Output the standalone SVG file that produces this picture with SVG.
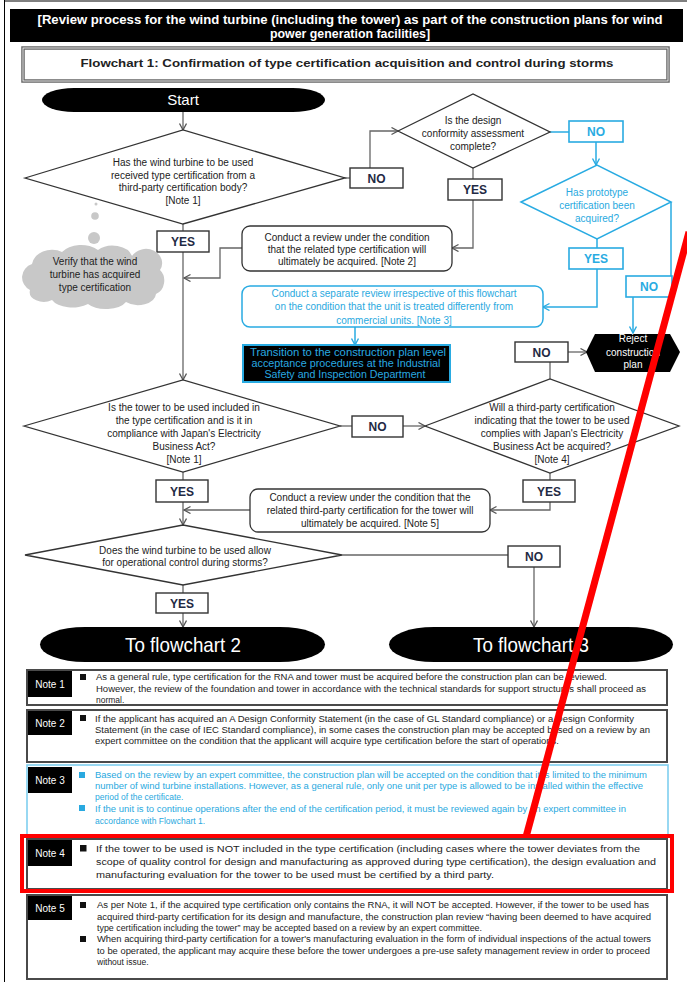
<svg xmlns="http://www.w3.org/2000/svg" width="687" height="982" viewBox="0 0 687 982">
<style>
text{font-family:"Liberation Sans",Arial,sans-serif;}
.t{font-size:10px;fill:#222;text-anchor:middle;}
.tb{font-size:10px;fill:#29a9e0;text-anchor:middle;}
.tw{fill:#fff;text-anchor:middle;}
.shape{fill:#fff;stroke:#333;stroke-width:1.3;}
.bshape{fill:#fff;stroke:#29abe2;stroke-width:1.5;}
.yn{fill:#fff;stroke:#333;stroke-width:1.4;}
.byn{fill:#fff;stroke:#29abe2;stroke-width:1.6;}
.ynt{font-size:12px;font-weight:bold;fill:#1f2a44;text-anchor:middle;}
.bynt{font-size:12px;font-weight:bold;fill:#29abe2;text-anchor:middle;}
.c{fill:none;stroke:#666;stroke-width:1.3;}
.cb{fill:none;stroke:#29abe2;stroke-width:1.5;}
.note{fill:#fff;stroke:#4a4a4a;stroke-width:2;}
.lab{fill:#000;}
.labt{font-size:10px;fill:#fff;text-anchor:middle;}
.nt{font-size:8.5px;fill:#222;}
.nbt{font-size:8.5px;fill:#29a9e0;}
</style>
<defs>
<marker id="a" markerUnits="userSpaceOnUse" markerWidth="10" markerHeight="10" refX="7" refY="4" orient="auto">
<path d="M0.5,0.5 L7,4 L0.5,7.5" fill="none" stroke="#555" stroke-width="1.3"/>
</marker>
<marker id="ab" markerUnits="userSpaceOnUse" markerWidth="10" markerHeight="10" refX="7" refY="4" orient="auto">
<path d="M0.5,0.5 L7,4 L0.5,7.5" fill="none" stroke="#29abe2" stroke-width="1.4"/>
</marker>
</defs>
<rect width="687" height="982" fill="#fff"/>
<line x1="4.5" y1="0" x2="4.5" y2="982" stroke="#000" stroke-width="1"/>
<line x1="4" y1="1" x2="687" y2="1" stroke="#000" stroke-width="1"/>

<g id="header">
<rect x="10" y="9" width="673" height="33" fill="#000"/>
<text x="350" y="24" class="tw" font-size="12" font-weight="bold" textLength="625" lengthAdjust="spacingAndGlyphs">[Review process for the wind turbine (including the tower) as part of the construction plans for wind</text>
<text x="350" y="38" class="tw" font-size="12" font-weight="bold" textLength="160" lengthAdjust="spacingAndGlyphs">power generation facilities]</text>
</g>
<g id="title">
<rect x="23" y="48" width="645" height="33" fill="#fff" stroke="#666" stroke-width="3.5"/>
<rect x="23" y="48" width="645" height="33" fill="none" stroke="#fff" stroke-width="0.8"/>
<text x="347" y="67" class="t" font-size="13" font-weight="bold" fill="#111" textLength="533" lengthAdjust="spacingAndGlyphs">Flowchart 1: Confirmation of type certification acquisition and control during storms</text>
</g>

<g id="connectors">
<line class="c" x1="183" y1="112" x2="183" y2="130" marker-end="url(#a)"/>
<line class="c" x1="345" y1="178" x2="350" y2="178"/>
<polyline class="c" points="370,168 370,131 398,131" marker-end="url(#a)"/>
<line class="c" x1="473" y1="168" x2="473" y2="179"/>
<polyline class="c" points="473,200 473,248 452,248" marker-end="url(#a)"/>
<polyline class="c" points="242,248 220,248 220,278 184,278" marker-end="url(#a)"/>
<line class="c" x1="183" y1="224" x2="183" y2="231"/>
<line class="c" x1="183" y1="252" x2="183" y2="380" marker-end="url(#a)"/>
<line class="cb" x1="550" y1="132" x2="569" y2="132"/>
<line class="cb" x1="596" y1="142" x2="596" y2="165" marker-end="url(#ab)"/>
<line class="cb" x1="597" y1="239" x2="597" y2="248"/>
<polyline class="cb" points="597,269 597,307 543,307" marker-end="url(#ab)"/>
<line class="cb" x1="671" y1="202" x2="671" y2="276"/>
<line class="cb" x1="633" y1="297" x2="633" y2="333" marker-end="url(#ab)"/>
<line class="cb" x1="355" y1="327" x2="355" y2="345" marker-end="url(#ab)"/>
<line class="c" x1="550" y1="362" x2="550" y2="379"/>
<line class="c" x1="568" y1="352" x2="587" y2="352" marker-end="url(#a)"/>
<line class="c" x1="340" y1="426" x2="352" y2="426"/>
<line class="c" x1="403" y1="426" x2="425" y2="426" marker-end="url(#a)"/>
<line class="c" x1="183" y1="472" x2="183" y2="480"/>
<line class="c" x1="183" y1="502" x2="183" y2="525" marker-end="url(#a)"/>
<line class="c" x1="550" y1="473" x2="550" y2="480"/>
<polyline class="c" points="550,502 550,510 490,510" marker-end="url(#a)"/>
<line class="c" x1="250" y1="510" x2="184" y2="510" marker-end="url(#a)"/>
<line class="c" x1="342" y1="555" x2="508" y2="555"/>
<line class="c" x1="534" y1="567" x2="534" y2="627" marker-end="url(#a)"/>
<line class="c" x1="183" y1="585" x2="183" y2="593"/>
<line class="c" x1="183" y1="613" x2="183" y2="627" marker-end="url(#a)"/>
</g>

<g id="start">
<rect x="42" y="88" width="283" height="24" rx="32" ry="12" fill="#000"/>
<text x="183" y="105" class="tw" font-size="15">Start</text>
</g>

<g id="d1">
<polygon class="shape" points="25,178 183,130 345,178 183,224"/>
<text class="t" x="183" y="165.5">Has the wind turbine to be used</text>
<text class="t" x="183" y="178.5">received type certification from a</text>
<text class="t" x="183" y="190.5">third-party certification body?</text>
<text class="t" x="183" y="203.5">[Note 1]</text>
</g>
<g id="no1"><rect class="yn" x="350" y="168" width="53" height="20"/><text class="ynt" x="376.5" y="182.5">NO</text></g>
<g id="d2">
<polygon class="shape" points="398,131 473,94 550,132 473,168"/>
<text class="t" x="473" y="123.5">Is the design</text>
<text class="t" x="473" y="136.5">conformity assessment</text>
<text class="t" x="473" y="149.5">complete?</text>
</g>
<g id="yes2"><rect class="yn" x="448" y="179" width="54" height="21"/><text class="ynt" x="475" y="194">YES</text></g>
<g id="yes1"><rect class="yn" x="157" y="231" width="52" height="21"/><text class="ynt" x="183" y="246">YES</text></g>
<g id="cloud">
<circle cx="96" cy="204" r="1.5" fill="#c8c8c8"/>
<circle cx="95" cy="216" r="3.8" fill="#c8c8c8"/>
<circle cx="94" cy="238" r="6" fill="#c8c8c8"/>
<path d="M30,290 a14,14 0 0 1 2,-26 a20,16 0 0 1 30,-12 a22,14 0 0 1 36,-2 a20,14 0 0 1 34,6 a16,14 0 0 1 28,14 a12,14 0 0 1 -4,24 a18,12 0 0 1 -30,8 a22,12 0 0 1 -38,2 a22,12 0 0 1 -36,-4 a14,10 0 0 1 -22,-10 z" fill="#c8c8c8"/>
<text class="t" x="95" y="264.5" fill="#333">Verify that the wind</text>
<text class="t" x="95" y="277.5" fill="#333">turbine has acquired</text>
<text class="t" x="95" y="290.5" fill="#333">type certification</text>
</g>
<g id="box2">
<rect class="shape" x="242" y="226" width="210" height="45" rx="8"/>
<text class="t" x="347" y="240.5">Conduct a review under the condition</text>
<text class="t" x="347" y="252.5">that the related type certification will</text>
<text class="t" x="347" y="264.5">ultimately be acquired. [Note 2]</text>
</g>
<g id="no2"><rect class="byn" x="569" y="121" width="54" height="21"/><text class="bynt" x="596" y="136">NO</text></g>
<g id="d6">
<polygon class="bshape" points="521,202 597,165 671,202 597,239"/>
<text class="tb" x="597" y="195.5">Has prototype</text>
<text class="tb" x="597" y="208.5">certification been</text>
<text class="tb" x="597" y="221.5">acquired?</text>
</g>
<g id="yes6"><rect class="byn" x="569" y="248" width="54" height="21"/><text class="bynt" x="596" y="263">YES</text></g>
<g id="no7"><rect class="byn" x="626" y="276" width="46" height="21"/><text class="bynt" x="649" y="291">NO</text></g>
<g id="box3">
<rect class="bshape" x="242" y="286" width="301" height="41" rx="8"/>
<text class="tb" x="394" y="296.5">Conduct a separate review irrespective of this flowchart</text>
<text class="tb" x="394" y="310">on the condition that the unit is treated differently from</text>
<text class="tb" x="394" y="323.5">commercial units. [Note 3]</text>
</g>
<g id="transition">
<rect x="243" y="345" width="207" height="37" fill="#000" stroke="#29abe2" stroke-width="2"/>
<text class="tb" font-size="11" x="348" y="355.5" textLength="196" lengthAdjust="spacingAndGlyphs">Transition to the construction plan level</text>
<text class="tb" font-size="11" x="346" y="366.5" textLength="189" lengthAdjust="spacingAndGlyphs">acceptance procedures at the Industrial</text>
<text class="tb" font-size="11" x="345" y="377.5" textLength="161" lengthAdjust="spacingAndGlyphs">Safety and Inspection Department</text>
</g>
<g id="reject">
<polygon points="586,352 595,334 670,334 680,352 670,372 595,372" fill="#000"/>
<text class="tw" font-size="10" x="633" y="342">Reject</text>
<text class="tw" font-size="10" x="633" y="355.5">construction</text>
<text class="tw" font-size="10" x="633" y="368">plan</text>
</g>
<g id="no8"><rect class="yn" x="515" y="342" width="53" height="20"/><text class="ynt" x="541.5" y="356.5">NO</text></g>
<g id="d3">
<polygon class="shape" points="24,426 183,380 340,426 183,472"/>
<text class="t" x="184" y="411">Is the tower to be used included in</text>
<text class="t" x="184" y="423.5">the type certification and is it in</text>
<text class="t" x="184" y="437">compliance with Japan's Electricity</text>
<text class="t" x="184" y="449.5">Business Act?</text>
<text class="t" x="184" y="463">[Note 1]</text>
</g>
<g id="no9"><rect class="yn" x="352" y="416" width="51" height="21"/><text class="ynt" x="377.5" y="431">NO</text></g>
<g id="d4">
<polygon class="shape" points="425,426 550,379 679,426 550,473"/>
<text class="t" x="552" y="411">Will a third-party certification</text>
<text class="t" x="552" y="423.5">indicating that the tower to be used</text>
<text class="t" x="552" y="437">complies with Japan's Electricity</text>
<text class="t" x="552" y="449.5">Business Act be acquired?</text>
<text class="t" x="552" y="463">[Note 4]</text>
</g>
<g id="yes3"><rect class="yn" x="156" y="480" width="52" height="22"/><text class="ynt" x="182" y="495.5">YES</text></g>
<g id="yes4"><rect class="yn" x="523" y="480" width="52" height="22"/><text class="ynt" x="549" y="495.5">YES</text></g>
<g id="box5">
<rect class="shape" x="250" y="489" width="240" height="43" rx="8"/>
<text class="t" x="370" y="500.5">Conduct a review under the condition that the</text>
<text class="t" x="370" y="513.5">related third-party certification for the tower will</text>
<text class="t" x="370" y="526.5">ultimately be acquired. [Note 5]</text>
</g>
<g id="d5">
<polygon class="shape" points="25,555 183,525 342,555 183,585"/>
<text class="t" x="185" y="553.5">Does the wind turbine to be used allow</text>
<text class="t" x="185" y="565.5">for operational control during storms?</text>
</g>
<g id="no10"><rect class="yn" x="508" y="546" width="52" height="21"/><text class="ynt" x="534" y="561">NO</text></g>
<g id="yes5"><rect class="yn" x="156" y="593" width="52" height="20"/><text class="ynt" x="182" y="607.5">YES</text></g>
<g id="fc2">
<rect x="40" y="627" width="285" height="35" rx="45" ry="17.5" fill="#000"/>
<text class="tw" font-size="21" x="183" y="652" textLength="116" lengthAdjust="spacingAndGlyphs">To flowchart 2</text>
</g>
<g id="fc3">
<rect x="389" y="627" width="284" height="35" rx="45" ry="17.5" fill="#000"/>
<text class="tw" font-size="21" x="531" y="652" textLength="116" lengthAdjust="spacingAndGlyphs">To flowchart 3</text>
</g>

<g id="note1">
<rect class="note" x="27" y="670" width="640" height="35"/>
<rect class="lab" x="28" y="671" width="44" height="26"/>
<text class="labt" x="50" y="688">Note 1</text>
<rect x="80" y="674" width="6" height="6" fill="#111"/>
<text class="nt" x="96" y="680" textLength="511" lengthAdjust="spacingAndGlyphs">As a general rule, type certification for the RNA and tower must be acquired before the construction plan can be reviewed.</text>
<text class="nt" x="96" y="691.5" textLength="550" lengthAdjust="spacingAndGlyphs">However, the review of the foundation and tower in accordance with the technical standards for support structures shall proceed as</text>
<text class="nt" x="96" y="702.5">normal.</text>
</g>
<g id="note2">
<rect class="note" x="27" y="710" width="640" height="52"/>
<rect class="lab" x="28" y="711" width="44" height="24"/>
<text class="labt" x="50" y="727">Note 2</text>
<rect x="80" y="715" width="6" height="6" fill="#111"/>
<text class="nt" x="95" y="721.5" textLength="539" lengthAdjust="spacingAndGlyphs">If the applicant has acquired an A Design Conformity Statement (in the case of GL Standard compliance) or a Design Conformity</text>
<text class="nt" x="95" y="732.5" textLength="555" lengthAdjust="spacingAndGlyphs">Statement (in the case of IEC Standard compliance), in some cases the construction plan may be accepted based on a review by an</text>
<text class="nt" x="95" y="743.5" textLength="464" lengthAdjust="spacingAndGlyphs">expert committee on the condition that the applicant will acquire type certification before the start of operations.</text>
</g>
<g id="note3">
<rect x="27" y="765" width="641" height="70" fill="#fff" stroke="#7fcfef" stroke-width="1.6"/>
<rect class="lab" x="28" y="767" width="44" height="26"/>
<text class="labt" x="50" y="784" fill="#29a9e0">Note 3</text>
<rect x="79" y="772" width="6" height="6" fill="#29a9e0"/>
<text class="nbt" x="95" y="778" textLength="552" lengthAdjust="spacingAndGlyphs">Based on the review by an expert committee, the construction plan will be accepted on the condition that it is limited to the minimum</text>
<text class="nbt" x="95" y="789" textLength="548" lengthAdjust="spacingAndGlyphs">number of wind turbine installations. However, as a general rule, only one unit per type is allowed to be installed within the effective</text>
<text class="nbt" x="95" y="799.5">period of the certificate.</text>
<rect x="79" y="805" width="6" height="6" fill="#29a9e0"/>
<text class="nbt" x="95" y="811.5" textLength="531" lengthAdjust="spacingAndGlyphs">If the unit is to continue operations after the end of the certification period, it must be reviewed again by an expert committee in</text>
<text class="nbt" x="95" y="823.5">accordance with Flowchart 1.</text>
</g>
<g id="note4">
<rect class="note" x="27" y="839" width="640" height="50"/>
<rect class="lab" x="28" y="840" width="44" height="26"/>
<text class="labt" x="50" y="856.5">Note 4</text>
<rect x="80" y="845" width="6.5" height="6.5" fill="#111"/>
<text class="nt" font-size="9.5" x="96" y="851.5" textLength="544" lengthAdjust="spacingAndGlyphs">If the tower to be used is NOT included in the type certification (including cases where the tower deviates from the</text>
<text class="nt" font-size="9.5" x="96" y="864.5" textLength="560" lengthAdjust="spacingAndGlyphs">scope of quality control for design and manufacturing as approved during type certification), the design evaluation and</text>
<text class="nt" font-size="9.5" x="96" y="878" textLength="398" lengthAdjust="spacingAndGlyphs">manufacturing evaluation for the tower to be used must be certified by a third party.</text>
</g>
<g id="note5">
<rect class="note" x="27" y="895" width="640" height="84"/>
<rect class="lab" x="28" y="896" width="44" height="24"/>
<text class="labt" x="50" y="912">Note 5</text>
<rect x="80" y="902" width="6" height="6" fill="#111"/>
<text class="nt" x="97" y="908" textLength="552" lengthAdjust="spacingAndGlyphs">As per Note 1, if the acquired type certification only contains the RNA, it will NOT be accepted. However, if the tower to be used has</text>
<text class="nt" x="97" y="919.5" textLength="554" lengthAdjust="spacingAndGlyphs">acquired third-party certification for its design and manufacture, the construction plan review “having been deemed to have acquired</text>
<text class="nt" x="97" y="930.5" textLength="385" lengthAdjust="spacingAndGlyphs">type certification including the tower” may be accepted based on a review by an expert committee.</text>
<rect x="80" y="936" width="6" height="6" fill="#111"/>
<text class="nt" x="97" y="942" textLength="554" lengthAdjust="spacingAndGlyphs">When acquiring third-party certification for a tower's manufacturing evaluation in the form of individual inspections of the actual towers</text>
<text class="nt" x="97" y="953.5" textLength="553" lengthAdjust="spacingAndGlyphs">to be operated, the applicant may acquire these before the tower undergoes a pre-use safety management review in order to proceed</text>
<text class="nt" x="97" y="964.5">without issue.</text>
</g>

<g id="highlight">
<rect x="22" y="836" width="650" height="55" fill="none" stroke="#f00" stroke-width="4"/>
<line x1="689" y1="232" x2="526" y2="837" stroke="#f00" stroke-width="7"/>
</g>
</svg>
